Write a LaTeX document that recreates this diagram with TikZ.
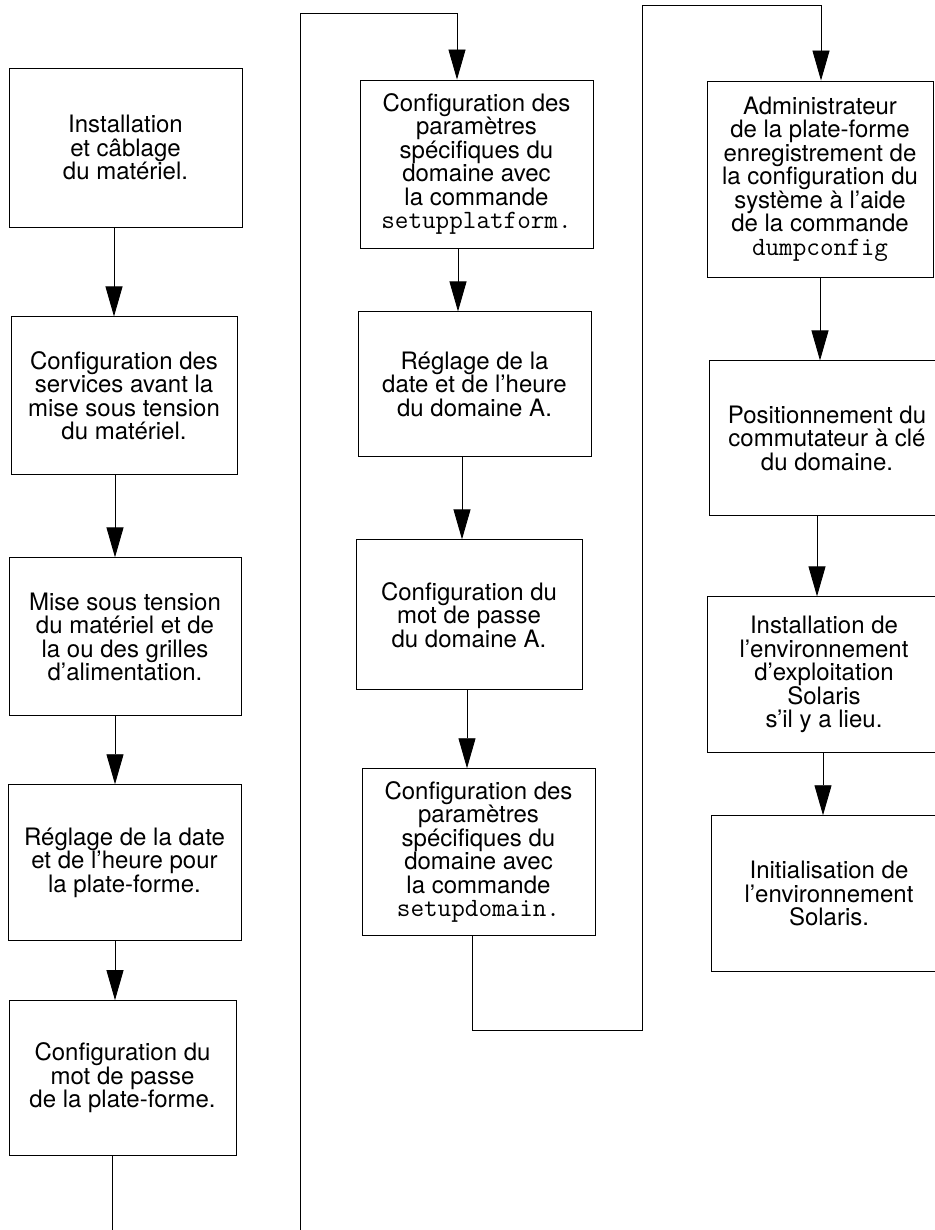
\documentclass[tikz,border=0pt]{standalone}
\usepackage{fontspec}
\setmainfont{TeX Gyre Heros}
\usetikzlibrary{arrows.meta,positioning}

\newcommand{\cmdname}[1]{{\fontsize{26.4}{23.5}\selectfont\ttfamily #1}}

\begin{document}
\begin{tikzpicture}[x=1pt,y=-1pt,line width=0.9pt,
  >={Triangle[length=30pt,width=17pt]},
  task/.style={draw,rectangle,align=center,inner sep=0pt,
    font=\fontsize{24}{23.5}\selectfont}]
  \useasboundingbox (0,0) rectangle (934,1230);

  % first column
  \node[task,minimum width=233pt,minimum height=159pt] (inst) at (125.5,147.5)
    {Installation\\et câblage\\du matériel.};
  \node[task,minimum width=226pt,minimum height=158pt] (svc) [below=89pt of inst,xshift=-1.5pt]
    {Configuration des\\services avant la\\mise sous tension\\du matériel.};
  \node[task,minimum width=232pt,minimum height=158pt] (power) [below=82pt of svc,xshift=1pt]
    {Mise sous tension\\du matériel et de\\la ou des grilles\\d’alimentation.};
  \node[task,minimum width=233pt,minimum height=156pt] (pclock) [below=68pt of power,xshift=-0.5pt]
    {Réglage de la date\\et de l’heure pour\\la plate-forme.};
  \node[task,minimum width=227pt,minimum height=155pt] (ppwd) [below=59pt of pclock,xshift=-2pt]
    {Configuration du\\mot de passe\\de la plate-forme.};

  % second column
  \node[task,minimum width=233pt,minimum height=168pt] (setplat) at (476.5,164)
    {Configuration des\\paramètres\\spécifiques du\\domaine avec\\la commande\\\cmdname{setupplatform.}};
  \node[task,minimum width=233pt,minimum height=145pt] (dclock) [below=63pt of setplat,xshift=-2pt]
    {Réglage de la\\date et de l’heure\\du domaine A.};
  \node[task,minimum width=226pt,minimum height=150pt] (dpwd) [below=82pt of dclock,xshift=-5.5pt]
    {Configuration du\\mot de passe\\du domaine A.};
  \node[task,minimum width=233pt,minimum height=167pt] (setdom) [below=78pt of dpwd,xshift=9.5pt]
    {Configuration des\\paramètres\\spécifiques du\\domaine avec\\la commande\\\cmdname{setupdomain.}};

  % third column
  \node[task,minimum width=226pt,minimum height=196pt] (dump) at (820,179)
    {Administrateur\\de la plate-forme\\enregistrement de\\la configuration du\\système à l’aide\\de la commande\\\cmdname{dumpconfig}};
  \node[task,minimum width=236pt,minimum height=155pt] (keysw) [below=83pt of dump,xshift=7pt]
    {Positionnement du\\commutateur à clé\\du domaine.};
  \node[task,minimum width=234pt,minimum height=156pt] (solinst) [below=80pt of keysw,xshift=-3pt]
    {Installation de\\l’environnement\\d’exploitation\\Solaris\\s’il y a lieu.};
  \node[task,minimum width=236pt,minimum height=156pt] (boot) [below=62pt of solinst,xshift=5pt]
    {Initialisation de\\l’environnement\\Solaris.};

  \coordinate (lowA) at (112,1232);
  \coordinate (lowB) at (300,1232);
  \coordinate (topA) at (300,13);
  \coordinate (turnB) at (642,1030);
  \coordinate (topB) at (642,5);

  \draw[->] ([xshift=-11.5pt]inst.south) -- ([xshift=-10pt]svc.north);
  \draw[->] ([xshift=-9pt]svc.south) -- ([xshift=-10pt]power.north);
  \draw[->] ([xshift=-10pt]power.south) -- ([xshift=-9.5pt]pclock.north);
  \draw[->] ([xshift=-9.5pt]pclock.south) -- ([xshift=-7.5pt]ppwd.north);
  \draw ([xshift=-10.5pt]ppwd.south) -- (lowA);
  \draw[->] (lowB) -- (topA) -| ([xshift=-19.5pt]setplat.north);

  \draw[->] ([xshift=-18.5pt]setplat.south) -- ([xshift=-16.5pt]dclock.north);
  \draw[->] ([xshift=-12.5pt]dclock.south) -- ([xshift=-7pt]dpwd.north);
  \draw[->] ([xshift=-2pt]dpwd.south) -- ([xshift=-11.5pt]setdom.north);
  \draw[->] ([xshift=-6.5pt]setdom.south) |- (turnB) -- (topB) -| ([xshift=1pt]dump.north);

  \draw[->] (dump.south) -- ([xshift=-7pt]keysw.north);
  \draw[->] ([xshift=-10pt]keysw.south) -- ([xshift=-7pt]solinst.north);
  \draw[->] ([xshift=-1pt]solinst.south) -- ([xshift=-6pt]boot.north);
\end{tikzpicture}
\end{document}
